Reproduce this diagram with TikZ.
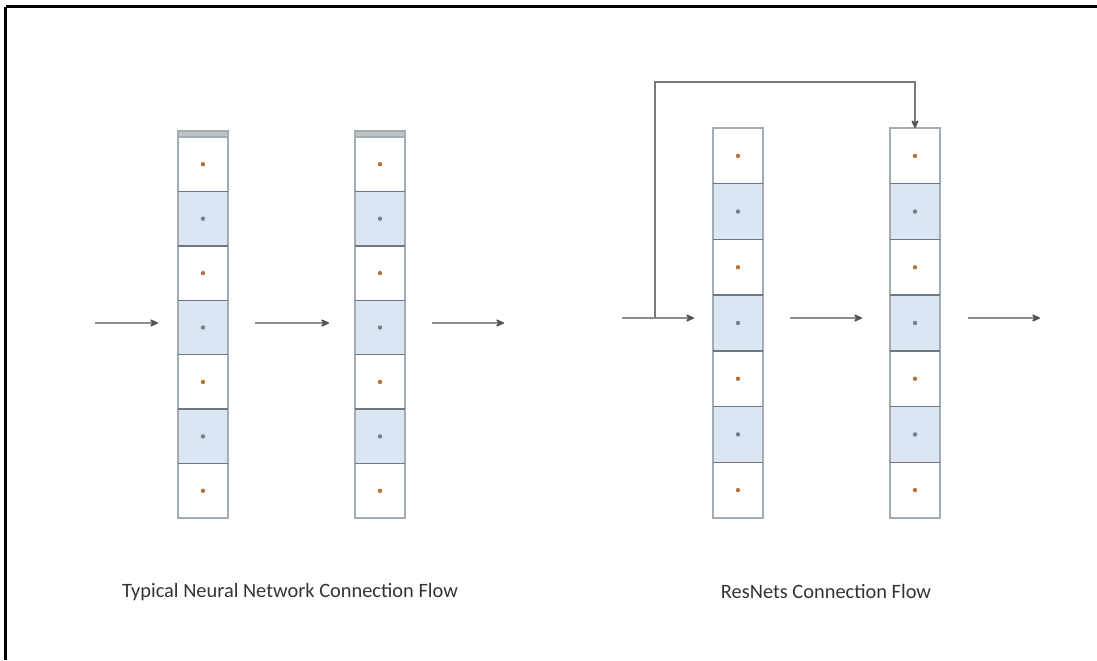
\documentclass[tikz,border=0pt]{standalone}
\usepackage{fontspec}
\setmainfont{Carlito}
\usetikzlibrary{arrows.meta}

\definecolor{cellblue}{HTML}{DCE6F2}
\definecolor{cellline}{HTML}{A3ABB5}
\definecolor{sepline}{HTML}{6F7882}
\definecolor{capgray}{HTML}{BFC3C7}
\definecolor{flowline}{HTML}{8E8E8E}
\definecolor{skipgray}{HTML}{7A7A7A}
\definecolor{headgray}{HTML}{555555}
\definecolor{dotorange}{HTML}{B8703E}
\definecolor{dotblue}{HTML}{6F819A}
\definecolor{captext}{HTML}{333333}

\tikzset{
  cellbox/.style={draw=cellline, line width=0.6pt, minimum width=25pt,
    inner sep=0pt, outer sep=0pt},
  flow/.style={draw=flowline, line width=0.7pt,
    -{Stealth[length=5pt,width=4.5pt,round,fill=headgray,color=headgray]}},
  skip/.style={draw=skipgray, line width=0.75pt,
    -{Stealth[length=5pt,width=4.5pt,round,fill=headgray,color=headgray]}},
  caption/.style={text=captext, font=\fontsize{10.2}{12}\selectfont, inner sep=0pt},
  frame/.style={draw=black, line width=1.1pt}
}

\begin{document}
\begin{tikzpicture}[x=0.5pt,y=-0.5pt]
  \useasboundingbox (0,0) rectangle (1097,660);

  % outer frame (top and left edges)
  \draw[frame] (5.5,6.5) -- (1097,6.5);
  \draw[frame] (5.5,6.5) -- (5.5,660);

  % layer columns: name / centre x / top of first cell / cell height
  \foreach \col/\cx/\top/\h in {A/203/137/54.43, B/380/137/54.43,
                                C/738/128/55.71, D/915/128/55.71} {
    \foreach \i in {1,3,5,7} {
      \pgfmathsetmacro\cy{\top+(\i-0.5)*\h}
      \node[cellbox, fill=white, minimum height=\h*0.5pt] (\col-\i) at (\cx,\cy) {};
      \fill[dotorange] (\cx,\cy) circle (1.1pt);
    }
    \foreach \i in {2,4,6} {
      \pgfmathsetmacro\cy{\top+(\i-0.5)*\h}
      \node[cellbox, fill=cellblue, minimum height=\h*0.5pt] (\col-\i) at (\cx,\cy) {};
      \fill[dotblue] (\cx,\cy) circle (1.1pt);
    }
    \foreach \i in {1,...,6} {
      \pgfmathsetmacro\by{\top+\i*\h}
      \draw[sepline, line width=0.7pt] (\cx-25,\by) -- (\cx+25,\by);
    }
  }

  % grey caps on top of the plain network columns
  \foreach \col in {A,B} {
    \draw[cellline, fill=capgray, line width=0.6pt]
      ([yshift=3pt]\col-1.north west) rectangle (\col-1.north east);
  }

  % plain network flow
  \coordinate (p0) at (95,323);   \coordinate (p1) at (158,323);
  \coordinate (p2) at (255,323);  \coordinate (p3) at (329,323);
  \coordinate (p4) at (432,323);  \coordinate (p5) at (504,323);
  \draw[flow] (p0) -- (p1);
  \draw[flow] (p2) -- (p3);
  \draw[flow] (p4) -- (p5);

  % residual network flow
  \coordinate (r0) at (622,318);  \coordinate (r1) at (694,318);
  \coordinate (r2) at (790,318);  \coordinate (r3) at (862,318);
  \coordinate (r4) at (968,318);  \coordinate (r5) at (1040,318);
  \draw[flow] (r0) -- (r1);
  \draw[flow] (r2) -- (r3);
  \draw[flow] (r4) -- (r5);

  % identity shortcut around the block
  \coordinate (sk0) at (655,318);
  \coordinate (sk1) at (655,82);
  \draw[skip] (sk0) -- (sk1) -| (D-1.north);

  % captions
  \node[caption] (capA) at (290,592) {Typical Neural Network Connection Flow};
  \node[caption] (capB) at (826,591) {ResNets Connection Flow};
\end{tikzpicture}
\end{document}
